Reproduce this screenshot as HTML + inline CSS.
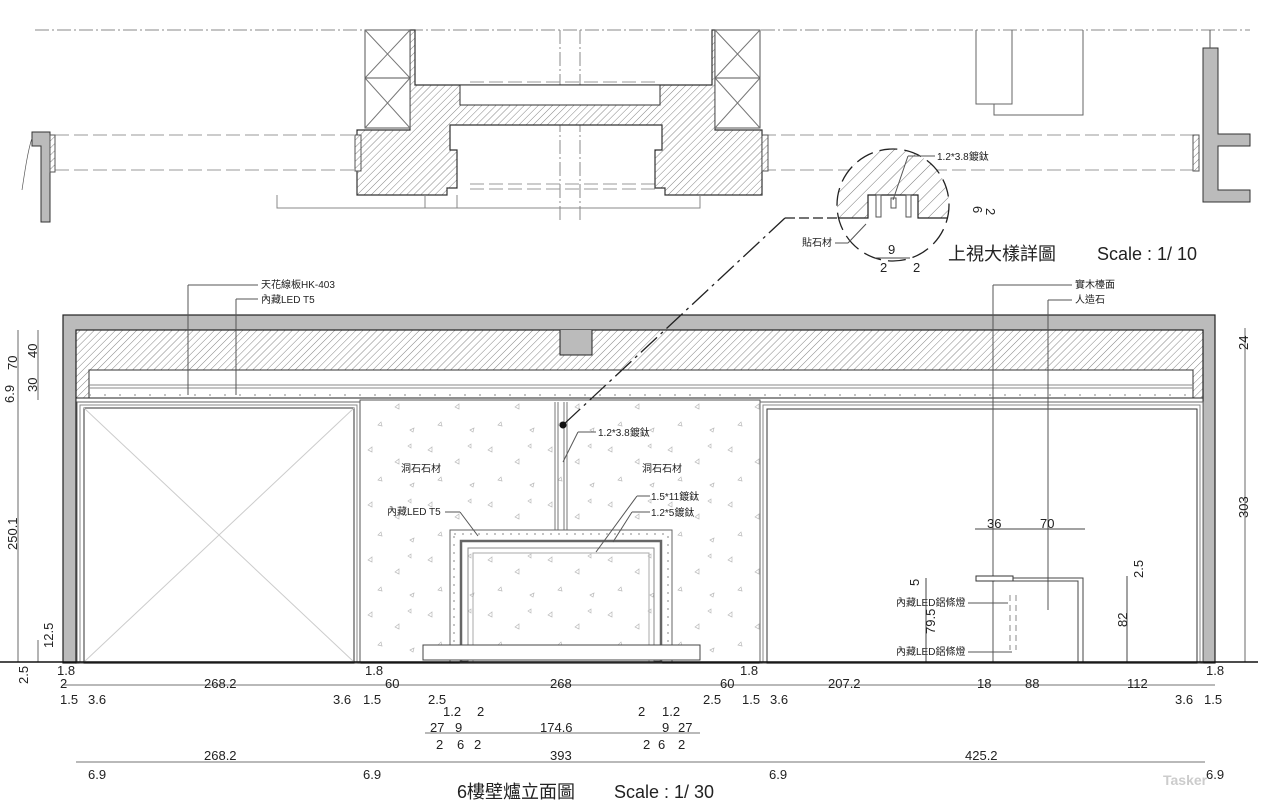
<!DOCTYPE html>
<html><head><meta charset="utf-8"><style>
html,body{margin:0;padding:0;background:#fff;}
svg{display:block;}
text{font-family:"Liberation Sans","Noto Sans CJK TC",sans-serif;fill:#222;}
.d{font-size:12px;font-family:"Liberation Sans Narrow","Liberation Sans",sans-serif;font-size:13px;}
.l{font-size:10px;}
</style></head><body>
<svg width="1272" height="800" viewBox="0 0 1272 800" xmlns="http://www.w3.org/2000/svg">
<defs>
<pattern id="h" width="5" height="5" patternUnits="userSpaceOnUse" patternTransform="rotate(45)">
<rect width="5" height="5" fill="#fff"/><line x1="0" y1="0" x2="0" y2="5" stroke="#666" stroke-width="0.8"/>
</pattern>
<pattern id="h2" width="9" height="9" patternUnits="userSpaceOnUse" patternTransform="rotate(45)">
<rect width="9" height="9" fill="#fff"/><line x1="0" y1="0" x2="0" y2="9" stroke="#555" stroke-width="0.8"/>
</pattern>
<pattern id="st" width="60" height="55" patternUnits="userSpaceOnUse">
<rect width="60" height="55" fill="#fff"/>
<g fill="none" stroke="#bbb" stroke-width="0.7">
<path d="M8 10l4 -3l0 5z"/><path d="M35 22l4 -3l0 5z"/><path d="M18 40l3 -3l1 4z"/><path d="M50 45l4 -2l-1 4z"/><path d="M48 6l3 -2l0 4z"/>
</g>
</pattern>
<clipPath id="cc"><circle cx="893" cy="205" r="56"/></clipPath>
</defs>

<!-- top plan -->
<g stroke="#888" stroke-width="1" fill="none" stroke-dasharray="14 3 2 3">
<line x1="35" y1="30" x2="1250" y2="30"/>
<line x1="560" y1="30" x2="560" y2="222"/>
<line x1="580" y1="30" x2="580" y2="222"/>
</g>
<g stroke="#999" stroke-width="1" stroke-dasharray="14 5">
<line x1="55" y1="135" x2="360" y2="135"/><line x1="55" y1="170" x2="360" y2="170"/>
<line x1="762" y1="135" x2="1195" y2="135"/><line x1="762" y1="170" x2="1195" y2="170"/>
<line x1="470" y1="82" x2="655" y2="82"/><line x1="470" y1="92" x2="655" y2="92"/>
<line x1="470" y1="184" x2="655" y2="184"/><line x1="470" y1="189" x2="655" y2="189"/>
</g>
<path d="M357 130 H410 V30 H415 V85 H712 V30 H715 V130 H762 V195 H665 V188 H655 V150 H662 V125 H450 V150 H457 V188 H447 V195 H357 Z" fill="url(#h)" stroke="#333" stroke-width="1.2"/>
<path d="M460 85 H660 V105 H460 Z" fill="#fff" stroke="#333"/>
<rect x="365" y="30" width="45" height="98" fill="#fff" stroke="#555"/>
<path d="M365 30 L410 78 M410 30 L365 78 M365 78 L410 128 M410 78 L365 128" stroke="#777"/>
<line x1="365" y1="78" x2="410" y2="78" stroke="#555"/>
<rect x="715" y="30" width="45" height="98" fill="#fff" stroke="#555"/>
<path d="M715 30 L760 78 M760 30 L715 78 M715 78 L760 128 M760 78 L715 128" stroke="#777"/>
<line x1="715" y1="78" x2="760" y2="78" stroke="#555"/>
<rect x="355" y="135" width="6" height="36" fill="url(#h)" stroke="#555"/>
<rect x="762" y="135" width="6" height="36" fill="url(#h)" stroke="#555"/>
<path d="M277 195 V208 H457 V195" fill="none" stroke="#888"/>
<path d="M425 195 V208 H700 V195" fill="none" stroke="#888"/>
<!-- left small -->
<path d="M32 132 H50 V222 H41 V146 H32 Z" fill="#bbb" stroke="#333"/>
<rect x="50" y="135" width="5" height="37" fill="url(#h)" stroke="#555"/>
<path d="M32 138 C28 150 25 170 22 190" fill="none" stroke="#555" stroke-width="0.7"/>
<!-- right element -->
<path d="M1203 48 H1218 V134 H1250 V146 H1218 V190 H1250 V202 H1203 Z" fill="#bbb" stroke="#333"/>
<rect x="1193" y="135" width="6" height="36" fill="url(#h)" stroke="#555"/>
<line x1="1210" y1="30" x2="1210" y2="48" stroke="#555"/>
<path d="M976 30 V104 H1012 V30 M994 104 V115 H1083 V30" fill="none" stroke="#666"/>

<!-- detail circle -->
<rect x="830" y="140" width="130" height="78" fill="url(#h2)" clip-path="url(#cc)"/>
<circle cx="893" cy="205" r="56" fill="none" stroke="#222" stroke-width="1.3" stroke-dasharray="18 7"/>
<rect x="868" y="195" width="50" height="24" fill="#fff"/>
<path d="M838 218 H868 V195 H918 V218 H948" fill="none" stroke="#222" stroke-width="1.2"/>
<rect x="876" y="195" width="5" height="22" fill="#fff" stroke="#555"/><rect x="906" y="195" width="5" height="22" fill="#fff" stroke="#555"/>
<rect x="891" y="198" width="5" height="10" fill="#fff" stroke="#555"/>
<line x1="908" y1="156" x2="935" y2="156" stroke="#555"/><line x1="908" y1="156" x2="893" y2="200" stroke="#555"/>
<text x="937" y="160" class="l">1.2*3.8鍍鈦</text>
<text x="802" y="246" class="l">貼石材</text><line x1="835" y1="243" x2="848" y2="243" stroke="#555"/><line x1="848" y1="243" x2="866" y2="224" stroke="#555"/>
<text x="888" y="254" class="d">9</text><line x1="875" y1="258" x2="910" y2="258" stroke="#444"/>
<text x="880" y="272" class="d">2</text><text x="913" y="272" class="d">2</text>
<text transform="translate(973,206) rotate(90)" class="d">6</text><text transform="translate(986,208) rotate(90)" class="d">2</text>
<text x="948" y="260" style="font-size:18px">上視大樣詳圖</text>
<text x="1097" y="260" style="font-size:18px">Scale : 1/ 10</text>

<!-- elevation frame -->
<rect x="63" y="315" width="1152" height="348" fill="#bbb" stroke="#222" stroke-width="1.2"/>
<rect x="76" y="330" width="1127" height="333" fill="url(#h)" stroke="#222" stroke-width="1.2"/>
<path d="M560 330 V355 H592 V330" fill="#bbb" stroke="#222"/>
<rect x="89" y="370" width="1104" height="28" fill="#fff" stroke="#333"/>
<line x1="89" y1="385" x2="1193" y2="385" stroke="#888"/>
<line x1="89" y1="388" x2="1193" y2="388" stroke="#888"/>
<line x1="89" y1="395" x2="1193" y2="395" stroke="#888" stroke-dasharray="2 13"/>
<rect x="76" y="398" width="1127" height="265" fill="#fff" stroke="#222"/>
<!-- left panel -->
<rect x="77" y="402" width="283" height="261" fill="#fff" stroke="#666"/>
<rect x="80" y="405" width="277" height="258" fill="none" stroke="#888"/>
<rect x="84" y="408" width="270" height="255" fill="none" stroke="#333"/>
<path d="M84 408 L354 662 M354 408 L84 662" stroke="#ccc"/>
<!-- center stone -->
<rect x="360" y="400" width="400" height="262" fill="url(#st)" stroke="#555"/>
<path d="M555 402 V530 M567 402 V530 M558 402 V530 M564 402 V530" stroke="#777"/>
<rect x="450" y="530" width="222" height="132" fill="#fff" stroke="#666"/>
<rect x="454" y="534" width="214" height="128" fill="none" stroke="#888" stroke-dasharray="2 6"/>
<rect x="461" y="541" width="200" height="121" fill="none" stroke="#666" stroke-width="2.5"/>
<rect x="468" y="548" width="186" height="114" fill="url(#st)" stroke="#888"/>
<rect x="473" y="553" width="176" height="109" fill="none" stroke="#aaa"/>
<rect x="423" y="645" width="277" height="15" fill="#fff" stroke="#444"/>
<text x="401" y="472" class="l">洞石石材</text>
<text x="642" y="472" class="l">洞石石材</text>
<text x="387" y="515" class="l">內藏LED T5</text><line x1="445" y1="512" x2="460" y2="512" stroke="#555"/><line x1="460" y1="512" x2="478" y2="536" stroke="#555"/>
<line x1="578" y1="432" x2="596" y2="432" stroke="#555"/><line x1="578" y1="432" x2="563" y2="462" stroke="#555"/><text x="598" y="436" class="l">1.2*3.8鍍鈦</text>
<line x1="637" y1="496" x2="650" y2="496" stroke="#555"/><line x1="637" y1="496" x2="596" y2="552" stroke="#555"/><text x="651" y="500" class="l">1.5*11鍍鈦</text>
<line x1="632" y1="512" x2="650" y2="512" stroke="#555"/><line x1="632" y1="512" x2="613" y2="542" stroke="#555"/><text x="651" y="516" class="l">1.2*5鍍鈦</text>
<!-- leader dashed (on top) -->
<path d="M785 218 L838 218" stroke="#222" stroke-width="1.3" stroke-dasharray="10 4"/>
<path d="M785 218 L563 425" stroke="#222" stroke-width="1.3" stroke-dasharray="22 5 3 5"/>
<circle cx="563" cy="425" r="3.5" fill="#111"/>
<!-- right panel -->
<rect x="760" y="402" width="443" height="261" fill="#fff" stroke="#666"/>
<rect x="763" y="405" width="437" height="258" fill="none" stroke="#888"/>
<rect x="767" y="409" width="430" height="254" fill="none" stroke="#333"/>
<line x1="993" y1="285" x2="993" y2="662" stroke="#555"/><line x1="993" y1="285" x2="1072" y2="285" stroke="#555"/>
<line x1="1048" y1="300" x2="1048" y2="610" stroke="#555"/><line x1="1048" y1="300" x2="1072" y2="300" stroke="#555"/>
<text x="1075" y="288" class="l">實木檯面</text><text x="1075" y="303" class="l">人造石</text>
<rect x="976" y="576" width="37" height="5" fill="#fff" stroke="#333"/>
<path d="M1013 578 H1083 V662 M995 581 H1078 V662" fill="none" stroke="#444"/>
<path d="M1010 595 V650 M1016 595 V650" stroke="#888" stroke-dasharray="6 4"/>
<text x="896" y="606" class="l">內藏LED鋁條燈</text><line x1="968" y1="603" x2="1008" y2="603" stroke="#555"/>
<text x="896" y="655" class="l">內藏LED鋁條燈</text><line x1="968" y1="652" x2="1012" y2="652" stroke="#555"/>
<line x1="975" y1="529" x2="1085" y2="529" stroke="#444"/><text x="987" y="528" class="d">36</text><text x="1040" y="528" class="d">70</text>
<line x1="926" y1="578" x2="926" y2="662" stroke="#444"/>
<text transform="translate(919,586) rotate(-90)" class="d">5</text>
<text transform="translate(935,634) rotate(-90)" class="d">79.5</text>
<line x1="1127" y1="576" x2="1127" y2="662" stroke="#444"/>
<text transform="translate(1143,578) rotate(-90)" class="d">2.5</text>
<text transform="translate(1127,627) rotate(-90)" class="d">82</text>

<!-- top leaders -->
<line x1="188" y1="285" x2="188" y2="395" stroke="#555"/><line x1="188" y1="285" x2="258" y2="285" stroke="#555"/><text x="261" y="288" class="l">天花線板HK-403</text>
<line x1="236" y1="299" x2="236" y2="395" stroke="#555"/><line x1="236" y1="299" x2="258" y2="299" stroke="#555"/><text x="261" y="303" class="l">內藏LED T5</text>

<!-- dims lines -->
<g stroke="#444" stroke-width="0.8">
<line x1="18" y1="330" x2="18" y2="662"/><line x1="38" y1="330" x2="38" y2="400"/>
<line x1="38" y1="640" x2="38" y2="662"/><line x1="1245" y1="328" x2="1245" y2="662"/>
<line x1="0" y1="662" x2="1258" y2="662" stroke="#111" stroke-width="1.5"/>
<line x1="63" y1="685" x2="1215" y2="685"/>
<line x1="425" y1="733" x2="700" y2="733"/>
<line x1="76" y1="762" x2="1205" y2="762"/>
</g>
<text transform="translate(17,370) rotate(-90)" class="d">70</text>
<text transform="translate(37,358) rotate(-90)" class="d">40</text>
<text transform="translate(37,392) rotate(-90)" class="d">30</text>
<text transform="translate(14,403) rotate(-90)" class="d">6.9</text>
<text transform="translate(17,550) rotate(-90)" class="d">250.1</text>
<text transform="translate(53,648) rotate(-90)" class="d">12.5</text>
<text transform="translate(28,684) rotate(-90)" class="d">2.5</text>
<text transform="translate(1248,350) rotate(-90)" class="d">24</text>
<text transform="translate(1248,518) rotate(-90)" class="d">303</text>

<g class="d">
<text x="57" y="675">1.8</text><text x="60" y="688">2</text><text x="60" y="704">1.5</text><text x="88" y="704">3.6</text>
<text x="204" y="688">268.2</text>
<text x="365" y="675">1.8</text><text x="333" y="704">3.6</text><text x="363" y="704">1.5</text><text x="385" y="688">60</text>
<text x="428" y="704">2.5</text><text x="550" y="688">268</text>
<text x="703" y="704">2.5</text><text x="720" y="688">60</text><text x="740" y="675">1.8</text><text x="742" y="704">1.5</text><text x="770" y="704">3.6</text>
<text x="828" y="688">207.2</text><text x="977" y="688">18</text><text x="1025" y="688">88</text><text x="1127" y="688">112</text>
<text x="1206" y="675">1.8</text><text x="1175" y="704">3.6</text><text x="1204" y="704">1.5</text>
<text x="443" y="716">1.2</text><text x="477" y="716">2</text><text x="430" y="732">27</text><text x="455" y="732">9</text>
<text x="436" y="749">2</text><text x="457" y="749">6</text><text x="474" y="749">2</text>
<text x="540" y="732">174.6</text>
<text x="638" y="716">2</text><text x="662" y="716">1.2</text><text x="662" y="732">9</text><text x="678" y="732">27</text>
<text x="643" y="749">2</text><text x="658" y="749">6</text><text x="678" y="749">2</text>
<text x="204" y="760">268.2</text><text x="550" y="760">393</text><text x="965" y="760">425.2</text>
<text x="88" y="779">6.9</text><text x="363" y="779">6.9</text><text x="769" y="779">6.9</text><text x="1206" y="779">6.9</text>
</g>
<text x="457" y="798" style="font-size:18px">6樓壁爐立面圖</text>
<text x="614" y="798" style="font-size:18px">Scale : 1/ 30</text>
<text x="1163" y="785" style="font-size:14px;fill:#ccc;font-weight:bold">Tasker</text>
</svg>
</body></html>
